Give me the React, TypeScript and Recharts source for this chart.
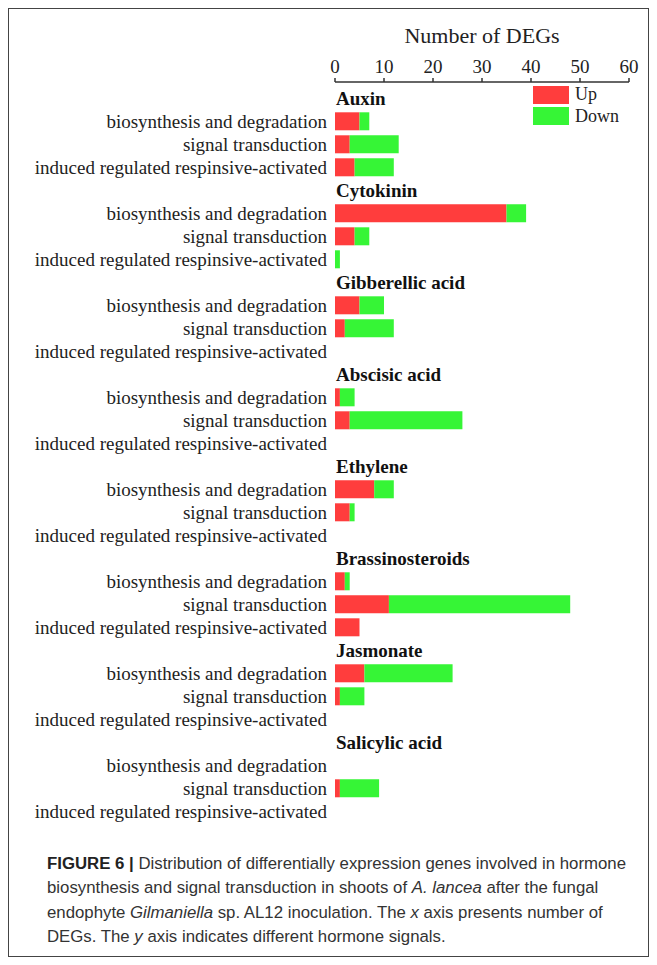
import { BarChart, Bar, XAxis, YAxis, Label, Legend } from "recharts";

const hormones = [
  "Auxin",
  "Cytokinin",
  "Gibberellic acid",
  "Abscisic acid",
  "Ethylene",
  "Brassinosteroids",
  "Jasmonate",
  "Salicylic acid",
];
const processes = [
  "biosynthesis and degradation",
  "signal transduction",
  "induced regulated respinsive-activated",
];
// one row per hormone: [biosynthesis, signal, induced]
const upCounts = [
  [5, 3, 4],
  [35, 4, 0],
  [5, 2, 0],
  [1, 3, 0],
  [8, 3, 0],
  [2, 11, 5],
  [6, 1, 0],
  [0, 1, 0],
];
const downCounts = [
  [2, 10, 8],
  [4, 3, 1],
  [5, 10, 0],
  [3, 23, 0],
  [4, 1, 0],
  [1, 37, 0],
  [18, 5, 0],
  [0, 8, 0],
];
const seriesNames = ["Up", "Down"];
const xTicks = [0, 10, 20, 30, 40, 50, 60];

const SERIF = "'Liberation Serif', 'Times New Roman', serif";
const RED = "#ff3d3d";
const GREEN = "#36f536";
const TICK_GAP = 8;

const rows = hormones.flatMap((h, i) => [
  { id: `h${i}`, label: h, title: true },
  ...processes.map((p, j) => ({
    id: `h${i}p${j}`,
    label: p,
    title: false,
    up: upCounts[i][j],
    down: downCounts[i][j],
  })),
]);

const CategoryTick = (props: any) => {
  const { x, y, payload } = props;
  const row = rows.find((r) => r.id === payload.value);
  if (!row) return null;
  if (row.title) {
    return (
      <text
        x={x + TICK_GAP + 1}
        y={y}
        dy="0.35em"
        textAnchor="start"
        fontFamily={SERIF}
        fontSize={19}
        fontWeight="bold"
        fill="#111"
      >
        {row.label}
      </text>
    );
  }
  return (
    <text
      x={x}
      y={y}
      dy="0.35em"
      textAnchor="end"
      fontFamily={SERIF}
      fontSize={19}
      fill="#222"
    >
      {row.label}
    </text>
  );
};

const LegendBox = (props: any) => {
  const items = [...(props.payload || [])].sort(
    (a: any, b: any) => seriesNames.indexOf(a.value) - seriesNames.indexOf(b.value)
  );
  return (
    <div style={{ fontFamily: SERIF, fontSize: 18, color: "#222" }}>
      {items.map((item: any) => (
        <div
          key={item.value}
          style={{ display: "flex", alignItems: "center", height: 21.5 }}
        >
          <span
            style={{
              display: "inline-block",
              width: 36,
              height: 18,
              background: item.color,
              marginRight: 6,
            }}
          />
          {item.value}
        </div>
      ))}
    </div>
  );
};

export default function App() {
  return (
    <div
      style={{
        position: "relative",
        width: 641,
        height: 949,
        border: "1px solid #444",
        boxSizing: "border-box",
        background: "#fff",
      }}
    >
      <div style={{ position: "absolute", left: 0, top: 0 }}>
        <BarChart
          width={639}
          height={830}
          data={rows}
          layout="vertical"
          margin={{ top: 0, right: 19, bottom: 16, left: 0 }}
          barCategoryGap="10%"
        >
          <XAxis
            type="number"
            orientation="top"
            domain={[0, 60]}
            ticks={xTicks}
            height={73}
            tickSize={4}
            tickMargin={5}
            stroke="#333"
            strokeWidth={1.5}
            tick={{ fontFamily: SERIF, fontSize: 19, fill: "#222" }}
          >
            <Label
              value="Number of DEGs"
              position="insideTop"
              offset={18}
              style={{ fontFamily: SERIF, fontSize: 22, fill: "#222" }}
            />
          </XAxis>
          <YAxis
            type="category"
            dataKey="id"
            width={326}
            interval={0}
            axisLine={false}
            tickLine={false}
            tickSize={0}
            tickMargin={TICK_GAP}
            padding={{ top: 5, bottom: 0 }}
            tick={<CategoryTick />}
          />
          <Legend
            layout="horizontal"
            verticalAlign="middle"
            align="center"
            content={<LegendBox />}
            wrapperStyle={{ left: 524, top: 75, width: 100 }}
          />
          <Bar dataKey="up" name={seriesNames[0]} stackId="a" fill={RED} isAnimationActive={false} />
          <Bar dataKey="down" name={seriesNames[1]} stackId="a" fill={GREEN} isAnimationActive={false} />
        </BarChart>
      </div>
      <div
        style={{
          position: "absolute",
          left: 38,
          top: 843,
          fontFamily: "'Liberation Sans', Arial, sans-serif",
          fontSize: 16.8,
          lineHeight: "24.4px",
          color: "#333",
          whiteSpace: "nowrap",
        }}
      >
        <div>
          <b style={{ color: "#222" }}>FIGURE 6 |</b> Distribution of differentially expression genes
          involved in hormone
        </div>
        <div>
          biosynthesis and signal transduction in shoots of <i>A. lancea</i> after the fungal
        </div>
        <div>
          endophyte <i>Gilmaniella</i> sp. AL12 inoculation. The <i>x</i> axis presents number of
        </div>
        <div>
          DEGs. The <i>y</i> axis indicates different hormone signals.
        </div>
      </div>
    </div>
  );
}
